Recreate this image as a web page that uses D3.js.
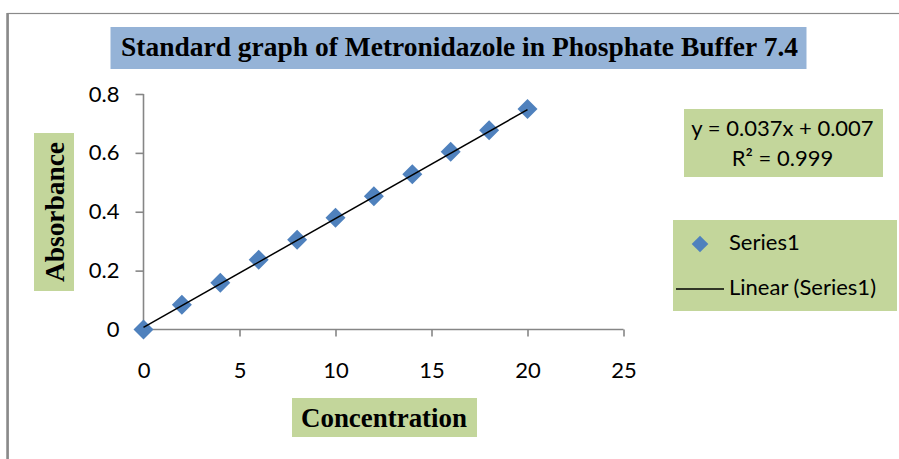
<!DOCTYPE html>
<html><head><meta charset="utf-8">
<script src="https://cdn.jsdelivr.net/npm/d3@7"></script>
<style>html,body{margin:0;padding:0;background:#fff;overflow:hidden}</style>
</head><body>
<svg id="chart" width="899" height="459"></svg>
<script>
const concentration = [0, 2, 4, 6, 8, 10, 12, 14, 16, 18, 20];
const absorbance = [0, 0.084, 0.159, 0.237, 0.305, 0.380, 0.453, 0.527, 0.604, 0.677, 0.749];
const xTicks = [0, 5, 10, 15, 20, 25];
const yTicks = [0, 0.2, 0.4, 0.6, 0.8];
const trendSlope = 0.037;
const trendIntercept = 0.007;
const titleText = "Standard graph of Metronidazole in Phosphate Buffer 7.4";
const xLabel = "Concentration";
const yLabel = "Absorbance";
const equationLines = ["y = 0.037x + 0.007", "R² = 0.999"];
const legendLabels = ["Series1", "Linear (Series1)"];

const svg = d3.select("#chart");
const sans = "Lato, 'Open Sans', sans-serif";
const serif = "'Liberation Serif', 'Times New Roman', serif";
const green = "#c3d69b";
const blue = "#95b3d7";
const axisGray = "#868686";
const markerBlue = "#4f81bd";

// outer chart border
svg.append("rect").attr("x", 8).attr("y", 13.5).attr("width", 1000).attr("height", 1000)
  .attr("fill", "none").attr("stroke", "#8a8a8a").attr("stroke-width", 1.2);
svg.append("line").attr("x1", 7.5).attr("x2", 7.5).attr("y1", 13).attr("y2", 459)
  .attr("stroke", "#8a8a8a").attr("stroke-width", 2.5);

const x = d3.scaleLinear().domain([0, 25]).range([143.5, 623.5]);
const y = d3.scaleLinear().domain([0, 0.8]).range([329.5, 94]);

// axes
const yAxis = svg.append("g").attr("transform", `translate(${x(0)},0)`)
  .call(d3.axisLeft(y).tickValues(yTicks).tickSize(8).tickPadding(16)
    .tickFormat(d => d === 0 ? "0" : d3.format(".1f")(d)));
const xAxis = svg.append("g").attr("transform", `translate(0,${y(0)})`)
  .call(d3.axisBottom(x).tickValues(xTicks).tickSize(7).tickFormat(d3.format("d")));
[yAxis, xAxis].forEach(g => {
  g.selectAll("path").attr("stroke", axisGray).attr("stroke-width", 1.6);
  g.selectAll("line").attr("stroke", axisGray).attr("stroke-width", 1.6);
  g.selectAll("text").attr("font-family", sans).attr("font-size", 22).attr("fill", "#000");
});
xAxis.selectAll("text").attr("dy", null).attr("y", 48);
yAxis.select(".domain").attr("d", `M0,${y(0.8)}V${y(0)}`);
xAxis.select(".domain").attr("d", `M${x(0)},0H${x(25)}`);

// markers
const diamond = d3.symbol().type(d3.symbolSquare).size(200);
svg.append("g").selectAll("path").data(concentration).join("path")
  .attr("d", diamond)
  .attr("transform", (d, i) => `translate(${x(d)},${y(absorbance[i])}) rotate(45)`)
  .attr("fill", markerBlue);

// linear trendline (drawn over markers)
const xMin = d3.min(concentration), xMax = d3.max(concentration);
svg.append("line")
  .attr("x1", x(xMin)).attr("y1", y(trendSlope * xMin + trendIntercept))
  .attr("x2", x(xMax)).attr("y2", y(trendSlope * xMax + trendIntercept))
  .attr("stroke", "#000").attr("stroke-width", 1.5);

// title
svg.append("rect").attr("x", 110.5).attr("y", 27).attr("width", 696).attr("height", 42).attr("fill", blue);
svg.append("text").attr("x", 459.5).attr("y", 56).attr("text-anchor", "middle")
  .attr("font-family", serif).attr("font-weight", "bold").attr("font-size", 26.5)
  .attr("textLength", 677).attr("lengthAdjust", "spacingAndGlyphs")
  .text(titleText);

// y label
svg.append("rect").attr("x", 34).attr("y", 133).attr("width", 40).attr("height", 158).attr("fill", green);
svg.append("text").attr("transform", "translate(64,212) rotate(-90)").attr("text-anchor", "middle")
  .attr("font-family", serif).attr("font-weight", "bold").attr("font-size", 27)
  .attr("textLength", 140).attr("lengthAdjust", "spacingAndGlyphs")
  .text(yLabel);

// x label
svg.append("rect").attr("x", 292).attr("y", 398).attr("width", 185).attr("height", 39).attr("fill", green);
svg.append("text").attr("x", 384).attr("y", 427).attr("text-anchor", "middle")
  .attr("font-family", serif).attr("font-weight", "bold").attr("font-size", 27)
  .attr("textLength", 166).attr("lengthAdjust", "spacingAndGlyphs")
  .text(xLabel);

// equation box
svg.append("rect").attr("x", 684).attr("y", 109).attr("width", 199).attr("height", 68).attr("fill", green);
svg.append("g").selectAll("text").data(equationLines).join("text")
  .attr("x", 782.5).attr("y", (d, i) => 136 + i * 30).attr("text-anchor", "middle")
  .attr("font-family", sans).attr("font-size", 22).attr("fill", "#000")
  .text(d => d);

// legend
svg.append("rect").attr("x", 673).attr("y", 220).attr("width", 224).attr("height", 91).attr("fill", green);
svg.append("path").attr("d", d3.symbol().type(d3.symbolSquare).size(138))
  .attr("transform", "translate(700,244) rotate(45)").attr("fill", markerBlue);
svg.append("line").attr("x1", 676).attr("x2", 724).attr("y1", 289).attr("y2", 289)
  .attr("stroke", "#000").attr("stroke-width", 1.5);
svg.append("g").selectAll("text").data(legendLabels).join("text")
  .attr("x", 729).attr("y", (d, i) => 250 + i * 45)
  .attr("font-family", sans).attr("font-size", 22).attr("fill", "#000")
  .text(d => d);
</script>
</body></html>
